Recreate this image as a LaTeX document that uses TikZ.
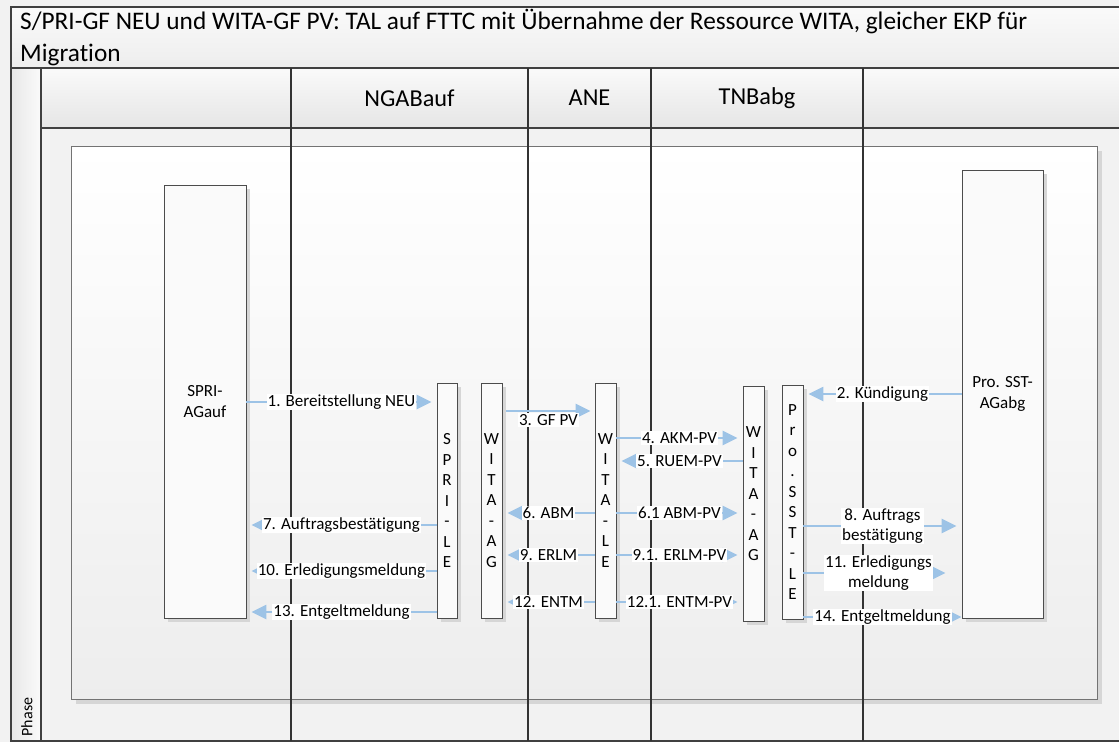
\documentclass[tikz,border=0pt]{standalone}
\usepackage{fontspec}
\setmainfont{Carlito}[Ligatures={NoCommon}]
\usepackage{xcolor}
\usetikzlibrary{arrows.meta,shadows}
\definecolor{msgblue}{RGB}{157,195,230}
\definecolor{framegray}{RGB}{64,64,64}
\definecolor{bggray}{RGB}{242,242,242}
\definecolor{shadowgray}{RGB}{214,214,214}
\tikzset{
  frame/.style={draw=framegray, line width=1.3pt},
  lane/.style={draw=black!80, line width=2pt},
  lifebox/.style={draw=black!70, line width=0.9pt, fill=white!98!black, inner sep=0pt,
    general shadow={fill=shadowgray, shadow xshift=4pt, shadow yshift=-4pt},
    font=\fontsize{17}{20.5}\selectfont, align=center},
  hdr/.style={font=\fontsize{24.3}{28}\selectfont, inner sep=0pt},
  msg/.style={draw=msgblue, line width=2.5pt, -{Triangle[length=15pt,width=14pt]}, shorten >=5pt},
  lbl/.style={fill=white, inner sep=1pt, text=black, font=\fontsize{17}{20}\selectfont, align=center},
}

\begin{document}
\begin{tikzpicture}[x=1pt,y=-1pt]
\useasboundingbox (0,0) rectangle (1119,742);
\fill[bggray] (0,0) rectangle (1119,742);

% pool, title and lane header
\draw[frame, top color=white!98!black, bottom color=white!93!black] (11,7) rectangle (1125,68);
\node[hdr, font=\fontsize{25.3}{30}\selectfont, anchor=base west] (title1) at (20,29.5) {S/PRI-GF NEU und WITA-GF PV: TAL auf FTTC mit Übernahme der Ressource WITA, gleicher EKP für};
\node[hdr, font=\fontsize{25.3}{30}\selectfont, anchor=base west] (title2) at (20,61) {Migration};
\shade[left color=white!91!black, right color=white!98!black] (11,68) rectangle (41,741);
\shade[top color=white!98!black, bottom color=white!90!black] (41,68) rectangle (1125,128);
\draw[frame] (11,68) rectangle (1125,741);
\draw[frame] (41,68) -- (41,741);
\draw[frame] (41,128) -- (1125,128);
\node[rotate=90, font=\fontsize{16}{19}\selectfont] (phase) at (27,717) {Phase};
\node[hdr] (ngab) at (409.5,98) {NGABauf};
\node[hdr] (ane) at (589.5,98) {ANE};
\node[hdr] (tnb) at (757,98) {TNBabg};

% phase box
\draw[draw=black!55, line width=1pt, top color=white, bottom color=white!93!black,
  general shadow={fill=shadowgray, shadow xshift=5pt, shadow yshift=-5pt}] (71,146) rectangle (1097,699);

% lanes
\foreach \lx in {291,528,651,863}
  \draw[lane] (\lx,68) -- (\lx,741);

% lifelines
\node[lifebox, minimum width=82pt, minimum height=433pt] (agauf) at (205,401.5) {SPRI-\\AGauf};
\node[lifebox, minimum width=20pt, minimum height=235pt] (sprile) at (447,500.5) {S\\P\\R\\I\\-\\L\\E};
\node[lifebox, minimum width=21pt, minimum height=235pt] (witaag) at (491.5,500.5) {W\\I\\T\\A\\-\\A\\G};
\node[lifebox, minimum width=21pt, minimum height=235pt] (witale) at (605.5,500.5) {W\\I\\T\\A\\-\\L\\E};
\node[lifebox, minimum width=21pt, minimum height=235pt] (witaabg) at (753.5,503.5) {};
\node[font=\fontsize{17}{20.5}\selectfont, align=center, inner sep=0pt] (witaabgtxt) at (753.5,494) {W\\I\\T\\A\\-\\A\\G};
\node[lifebox, minimum width=21pt, minimum height=234pt] (sstle) at (792.5,502) {P\\r\\o\\.\\S\\S\\T\\-\\L\\E};
\node[lifebox, minimum width=81pt, minimum height=448pt] (agabg) at (1002.5,394) {Pro. SST-\\AGabg};

% messages
\draw[msg] (agauf.east |- 0,402) -- (sprile.west |- 0,402) node[lbl, midway] {1. Bereitstellung NEU};
\draw[msg] (agabg.west |- 0,394) -- (sstle.east |- 0,394) node[lbl, midway] {2. Kündigung};
\draw[msg, shorten <=4pt, shorten >=4pt] (witaag.east |- 0,411) -- (witale.west |- 0,411) node[lbl, midway, yshift=-9pt] {3. GF PV};
\draw[msg] (witale.east |- 0,438) -- (witaabg.west |- 0,438) node[lbl, midway] {4. AKM-PV};
\draw[msg] (witaabg.west |- 0,461) -- (witale.east |- 0,461) node[lbl, midway] {5. RUEM-PV};
\draw[msg] (witale.west |- 0,513) -- (witaag.east |- 0,513) node[lbl, midway] {6. ABM};
\draw[msg] (witale.east |- 0,513) -- (witaabg.west |- 0,513) node[lbl, midway] {6.1 ABM-PV};
\draw[msg] (sprile.west |- 0,525) -- (agauf.east |- 0,525) node[lbl, midway] {7. Auftragsbestätigung};
\draw[msg] (sstle.east |- 0,526) -- (agabg.west |- 0,526) node[lbl, midway] {8. Auftrags\\bestätigung};
\draw[msg] (witale.west |- 0,555) -- (witaag.east |- 0,555) node[lbl, midway] {9. ERLM};
\draw[msg] (witale.east |- 0,555) -- (witaabg.west |- 0,555) node[lbl, midway] {9.1. ERLM-PV};
\draw[msg] (sprile.west |- 0,571) -- (agauf.east |- 0,571) node[lbl, midway] {10. Erledigungsmeldung};
\draw[msg, shorten >=16pt] (sstle.east |- 0,573) -- (agabg.west |- 0,573) node[lbl, midway, xshift=-4pt] {11. Erledigungs\\meldung};
\draw[msg] (witale.west |- 0,602) -- (witaag.east |- 0,602) node[lbl, midway] {12. ENTM};
\draw[msg] (witale.east |- 0,602) -- (witaabg.west |- 0,602) node[lbl, midway] {12.1. ENTM-PV};
\draw[msg] (sprile.west |- 0,612) -- (agauf.east |- 0,612) node[lbl, midway] {13. Entgeltmeldung};
\draw[msg, shorten >=0pt] (sstle.east |- 0,617) -- (agabg.west |- 0,617) node[lbl, midway] {14. Entgeltmeldung};
\end{tikzpicture}
\end{document}
